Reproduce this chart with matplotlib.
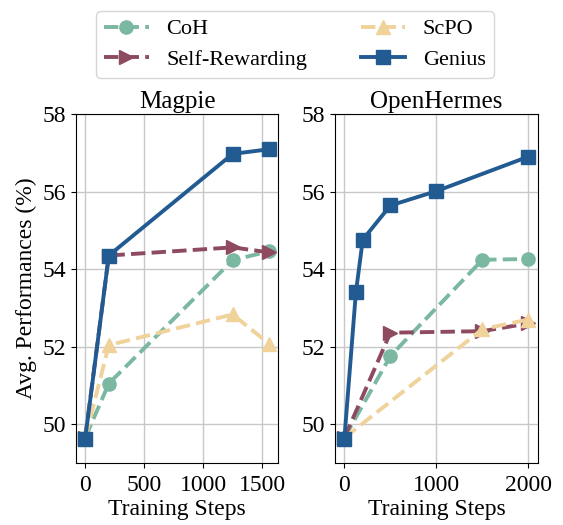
import matplotlib
matplotlib.use("Agg")
import matplotlib.pyplot as plt

plt.rcParams['font.family'] = ['Liberation Serif', 'DejaVu Serif']

# Magpie
magpie_steps = [0, 200, 1250, 1560]
magpie_coh = [49.65, 51.05, 54.23, 54.46]
magpie_self = [49.65, 54.35, 54.56, 54.43]
magpie_scpo = [49.65, 52.04, 52.83, 52.07]
magpie_genius = [49.63, 54.35, 56.97, 57.09]

# OpenHermes
oh_steps = [0, 500, 1500, 2000]
oh_coh = [49.65, 51.76, 54.24, 54.26]
oh_self = [49.65, 52.36, 52.40, 52.60]
oh_scpo_steps = [0, 1500, 2000]
oh_scpo = [49.65, 52.45, 52.70]
oh_genius_steps = [0, 125, 200, 500, 1000, 2000]
oh_genius = [49.63, 53.40, 54.76, 55.64, 56.01, 56.90]

colors = {'CoH': '#7ab8a1', 'Self-Rewarding': '#8e4b60',
          'ScPO': '#f0d29b', 'Genius': '#225b92'}

fig, (ax1, ax2) = plt.subplots(1, 2, figsize=(5.63, 5.25), dpi=100)

def draw(ax, coh, self_r, scpo, genius):
    ax.plot(coh[0], coh[1], color=colors['CoH'], ls='--', lw=2.8,
            marker='o', ms=9.5, label='CoH')
    ax.plot(self_r[0], self_r[1], color=colors['Self-Rewarding'], ls='--', lw=2.8,
            marker='>', ms=9.5, label='Self-Rewarding')
    ax.plot(scpo[0], scpo[1], color=colors['ScPO'], ls='--', lw=2.8,
            marker='^', ms=9.5, label='ScPO')
    ax.plot(genius[0], genius[1], color=colors['Genius'], ls='-', lw=2.8,
            marker='s', ms=9.5, label='Genius')
    ax.set_ylim(49, 58)
    ax.set_yticks([50, 52, 54, 56, 58])
    ax.grid(True, color='#c8c8c8', lw=1)
    ax.set_axisbelow(True)
    ax.tick_params(labelsize=17)
    ax.tick_params(axis='x', pad=5)
    ax.set_xlabel('Training Steps', fontsize=17, labelpad=2)

draw(ax1, (magpie_steps, magpie_coh), (magpie_steps, magpie_self),
     (magpie_steps, magpie_scpo), (magpie_steps, magpie_genius))
draw(ax2, (oh_steps, oh_coh), (oh_steps, oh_self),
     (oh_scpo_steps, oh_scpo), (oh_genius_steps, oh_genius))

ax1.set_xticks([0, 500, 1000, 1500])
ax2.set_xticks([0, 1000, 2000])
ax1.set_title('Magpie', fontsize=18, pad=4)
ax2.set_title('OpenHermes', fontsize=18, pad=4)
ax1.set_ylabel('Avg. Performances (%)', fontsize=17, labelpad=4)

handles, labels = ax1.get_legend_handles_labels()
fig.legend(handles, labels, loc='upper center', ncol=2, fontsize=16,
           bbox_to_anchor=(0.524, 1.0), columnspacing=2.4, handlelength=2.0,
           handletextpad=0.8, borderpad=0.35, labelspacing=0.45, frameon=True)

fig.subplots_adjust(left=0.135, right=0.955, bottom=0.118, top=0.783, wspace=0.28)
fig.savefig('out.png', dpi=100)
